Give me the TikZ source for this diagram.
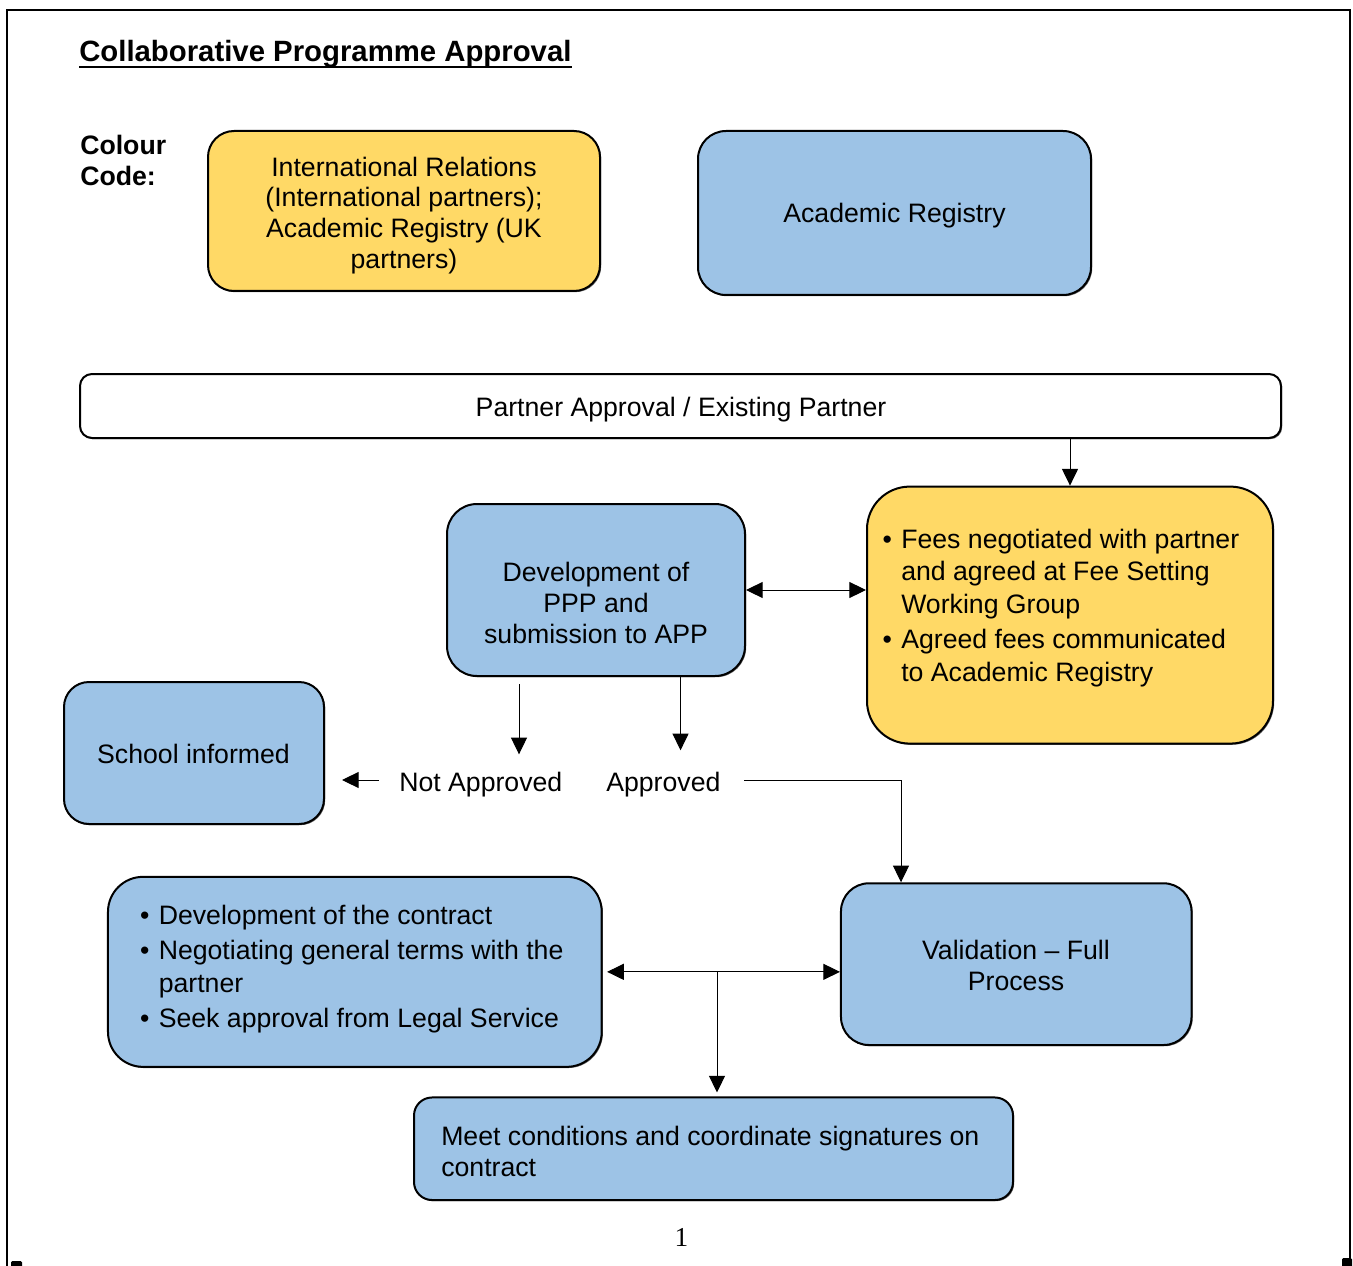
\documentclass[tikz,border=0pt]{standalone}
\usepackage{fontspec}
\setmainfont{Liberation Sans}
\newfontfamily\pgserif{Liberation Serif}
\usetikzlibrary{arrows.meta,shadows,calc}
\definecolor{boxblue}{HTML}{9DC3E6}
\definecolor{boxyellow}{HTML}{FFD966}
\newcommand\mybul{\llap{•\hspace{7pt}}}
\newcommand\txtsize{\fontsize{20pt}{23.25pt}\selectfont}
\newcommand\keysize{\fontsize{20pt}{23pt}\selectfont}
\newcommand\listsize{\fontsize{20pt}{24.5pt}\selectfont}
\begin{document}
\begin{tikzpicture}[x=0.75pt,y=-0.75pt,
  shp/.style={draw=black, line width=1.5pt, inner sep=0pt,
    drop shadow={shadow xshift=0.9pt,shadow yshift=-0.9pt,fill=black,opacity=0.6}},
  blueshp/.style={shp, fill=boxblue},
  yellowshp/.style={shp, fill=boxyellow},
  txt/.style={inner sep=0pt, font=\txtsize},
  arr/.style={line width=0.75pt, -{Triangle[length=12.5pt,width=12pt]}},
  arrtwo/.style={line width=0.75pt, {Triangle[length=12.5pt,width=12pt]}-{Triangle[length=12.5pt,width=12pt]}},
]
\fill[white] (0,0) rectangle (1353,1266);
\useasboundingbox (0,0) rectangle (1353,1266);

% page frame and corner marks
\draw[line width=1.5pt] (7,1290) -- (7,10) -- (1349.5,10) -- (1349.5,1290);
\fill[black, rounded corners=1pt] (11,1261) rectangle (22,1269);
\fill[black, rounded corners=1pt] (1342,1258) rectangle (1352,1269);

% title
\node[anchor=base west, inner sep=0pt, font=\bfseries\fontsize{22pt}{26pt}\selectfont] (title) at (79,62) {Collaborative Programme Approval};
\draw[line width=1.9pt] ([yshift=-3.75pt]title.base west) -- ([yshift=-3.75pt]title.base east);

% colour code
\node[anchor=north west, align=left, inner sep=0pt, font=\bfseries\fontsize{20pt}{23.25pt}\selectfont] (cc) at (80,135) {Colour\\Code:};

\node[yellowshp, minimum width=294pt, minimum height=120pt, rounded corners=19.5pt] (keyir) at (404,211) {};
\node[txt, anchor=north, align=center, font=\keysize] (keyirtxt) at (404,156.5) {International Relations\\(International partners);\\Academic Registry (UK\\partners)};

\node[blueshp, minimum width=294.75pt, minimum height=123pt, rounded corners=21pt] (keyar) at (894.5,213) {};
\node[txt, anchor=base] (keyartxt) at (894.5,223) {Academic Registry};

% partner
\node[shp, fill=white, minimum width=900.75pt, minimum height=48pt, rounded corners=9pt] (partner) at (680.5,406) {};
\node[txt, anchor=base] (partnertxt) at (681,416) {Partner Approval / Existing Partner};

% PPP
\node[blueshp, minimum width=223.5pt, minimum height=129pt, rounded corners=22.5pt] (ppp) at (596,590) {};
\node[txt, anchor=north, align=center] (ppptxt) at (596,562) {Development of\\PPP and\\submission to APP};

% fees
\node[yellowshp, minimum width=304.5pt, minimum height=192.75pt, rounded corners=32pt] (fees) at (1070,615.1) {};
\node[txt, anchor=north west, align=left, font=\listsize] (feestxt) at (901,528.5) {\mybul Fees negotiated with partner\\and agreed at Fee Setting\\Working Group\\[1.75pt]\mybul Agreed fees communicated\\to Academic Registry};

% school
\node[blueshp, minimum width=195pt, minimum height=106.5pt, rounded corners=18.75pt] (school) at (194,753) {};
\node[txt, anchor=base] (schooltxt) at (193.5,763.5) {School informed};

% labels
\node[txt, anchor=base west] (notapp) at (399,791) {Not Approved};
\node[txt, anchor=base west] (app) at (606,791) {Approved};

% contract
\node[blueshp, minimum width=370.3pt, minimum height=142.5pt, rounded corners=26.25pt] (contract) at (354.85,971.85) {};
\node[txt, anchor=north west, align=left, font=\listsize] (contracttxt) at (158.5,905.2) {\mybul Development of the contract\\[1.75pt]\mybul Negotiating general terms with the\\partner\\[1.75pt]\mybul Seek approval from Legal Service};

% validation
\node[blueshp, minimum width=262.9pt, minimum height=121.3pt, rounded corners=21pt] (val) at (1016.25,964.15) {};
\node[txt, anchor=north, align=center, font=\keysize] (valtxt) at (1016,940) {Validation – Full\\Process};

% meet
\node[blueshp, minimum width=449.25pt, minimum height=76.9pt, rounded corners=13.5pt] (meet) at (713.5,1148.75) {};
\node[txt, anchor=north west, align=left] (meettxt) at (441,1125.5) {Meet conditions and coordinate signatures on\\contract};

% page number
\node[anchor=base, inner sep=0pt, font=\pgserif\fontsize{20.5pt}{24pt}\selectfont] (pg) at (681.5,1246.5) {1};

% connectors
\draw[arr] (fees.north |- partner.south) -- (fees.north);
\draw[arrtwo] (ppp.east) -- (ppp.east -| fees.west);
\draw[arr] ([xshift=-57.75pt,yshift=-5.25pt]ppp.south) -- ++(0,70.3);
\draw[arr] ([xshift=63.4pt]ppp.south) -- ++(0,73.3);
\coordinate (naTail) at (378.5,780);
\coordinate (naTip) at (342,780);
\draw[arr] (naTail) -- (naTip);
\coordinate (apTail) at (744,780);
\coordinate (apBend) at (901,780);
\draw[arr] (apTail) -- (apBend) -- (apBend |- val.north);
\draw[arrtwo] ([xshift=3.3pt]contract.east) -- (contract.east -| val.west);
\coordinate (jn) at (717,971.85);
\draw[arr] (jn) -- ([yshift=3pt]jn |- meet.north);
\end{tikzpicture}
\end{document}
